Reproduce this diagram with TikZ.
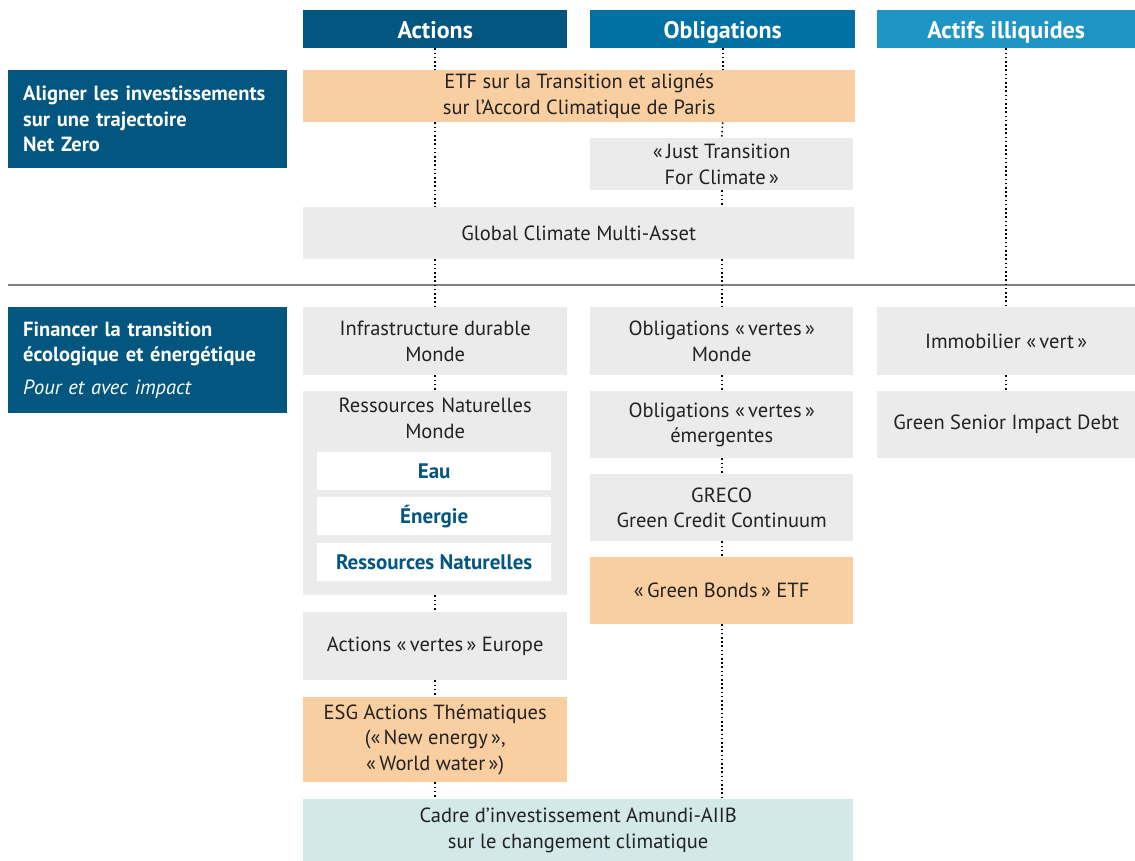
\documentclass[tikz,border=0pt]{standalone}
\usepackage{fontspec}
\setmainfont{PT Sans}
\usetikzlibrary{positioning}
\definecolor{navy}{HTML}{02567F}
\definecolor{midblue}{HTML}{0071A2}
\definecolor{skyblue}{HTML}{1F95C6}
\definecolor{boxgrey}{HTML}{EBEBEB}
\definecolor{peach}{HTML}{F9CEA0}
\definecolor{paleteal}{HTML}{D3E8E8}
\definecolor{inkgrey}{HTML}{222222}
\tikzset{
	cell/.style={anchor=north west, inner sep=0pt, align=center, text=inkgrey, font=\fontsize{20.5}{25.5}\selectfont},
	greycell/.style={cell, fill=boxgrey},
	peachcell/.style={cell, fill=peach},
	headcell/.style={cell, text=white, font=\fontsize{24}{25}\selectfont\bfseries, minimum height=38, text height=19pt, text depth=1pt},
	sidecell/.style={cell, fill=navy, text=white, align=left, text width=249, inner xsep=15, minimum width=279, font=\fontsize{20.5}{25.5}\selectfont\bfseries},
	subcell/.style={cell, fill=white, text=navy, minimum width=234, minimum height=38, font=\fontsize{21}{25}\selectfont\bfseries},
	dots/.style={line width=1.6pt, dash pattern=on 1.6pt off 2.6pt}
}
\begin{document}
\begin{tikzpicture}[x=1pt, y=-1pt]
			%%%%% START %%%%%
			\useasboundingbox (0,0) rectangle (1135,861);
			
			\node[headcell, fill=navy, minimum width=264] (hAct) at (303,10) {Actions};
			\node[headcell, fill=midblue, minimum width=265] (hObl) at (590,10) {Obligations};
			\node[headcell, fill=skyblue, minimum width=258] (hIll) at (877,10) {Actifs illiquides};
			
			\node[sidecell, minimum height=98] (netzero) at (8,70) {Aligner les investissements\\sur une trajectoire\\Net Zero};
			\node[sidecell, minimum height=106] (impact) at (8,307) {Financer la transition\\écologique et énergétique\\[7pt]{\mdseries\itshape Pour et avec impact}};
			
			\draw[line width=2pt, color=black!50] (8,285) -- (1135,285);
			
			% ---- alignement Net Zero
			\node[peachcell, minimum width=552, minimum height=52] (etf) at (303,70) {ETF sur la Transition et alignés\\sur l’Accord Climatique de Paris};
			\node[greycell, minimum width=263, minimum height=52] (jtc) at (590,138) {«\,Just Transition\\For Climate\,»};
			\node[greycell, minimum width=551, minimum height=52] (glob) at (303,207) {Global Climate Multi-Asset};
			
			% ---- colonne actions
			\node[greycell, minimum width=264, minimum height=68] (infra) at (303,307) {Infrastructure durable\\Monde};
			\node[greycell, minimum width=264, minimum height=204] (rnm) at (303,391) {};
			\node[cell, text width=264] (rnmT) at (303,398) {Ressources Naturelles\\Monde};
			\node[subcell] (eau) at (317,452) {Eau};
			\node[subcell] (nrj) at (317,497) {Énergie};
			\node[subcell] (res) at (317,543) {Ressources Naturelles};
			\node[greycell, minimum width=264, minimum height=68] (ave) at (303,612) {Actions «\,vertes\,» Europe};
			\node[peachcell, minimum width=264, minimum height=85] (esg) at (303,697) {ESG Actions Thématiques\\(«\,New energy\,»,\\«\,World water\,»)};
			
			% ---- colonne obligations
			\node[greycell, minimum width=263, minimum height=68] (ovm) at (590,307) {Obligations «\,vertes\,»\\Monde};
			\node[greycell, minimum width=263, minimum height=67] (ove) at (590,391) {Obligations «\,vertes\,»\\émergentes};
			\node[greycell, minimum width=263, minimum height=67] (greco) at (590,474) {GRECO\\Green Credit Continuum};
			\node[peachcell, minimum width=263, minimum height=67] (gbe) at (590,557) {«\,Green Bonds\,» ETF};
			
			% ---- colonne actifs illiquides
			\node[greycell, minimum width=258, minimum height=68] (immo) at (877,307) {Immobilier «\,vert\,»};
			\node[greycell, minimum width=258, minimum height=67] (gsid) at (877,391) {Green Senior Impact Debt};
			
			\node[cell, fill=paleteal, minimum width=550, minimum height=62] (cadre) at (303,799) {Cadre d’investissement Amundi-AIIB\\sur le changement climatique};
			
			% ---- pointilles
			\draw[dots] (hAct.south) -- (hAct.south |- etf.north);
			\draw[dots] (hAct.south |- etf.south) -- (hAct.south |- glob.north);
			\draw[dots] (hAct.south |- glob.south) -- (infra.north);
			\draw[dots] (infra.south) -- (rnm.north);
			\draw[dots] (rnm.south) -- (ave.north);
			\draw[dots] (ave.south) -- (esg.north);
			\draw[dots] (esg.south) -- (esg.south |- cadre.north);
			
			\draw[dots] (hObl.south) -- (hObl.south |- etf.north);
			\draw[dots] (hObl.south |- etf.south) -- (jtc.north);
			\draw[dots] (jtc.south) -- (jtc.south |- glob.north);
			\draw[dots] (jtc.south |- glob.south) -- (ovm.north);
			\draw[dots] (ovm.south) -- (ove.north);
			\draw[dots] (ove.south) -- (greco.north);
			\draw[dots] (greco.south) -- (gbe.north);
			\draw[dots] (gbe.south) -- (gbe.south |- cadre.north);
			
			\draw[dots] (hIll.south) -- (immo.north);
			\draw[dots] (immo.south) -- (gsid.north);
			
			%%%%% END %%%%%
		\end{tikzpicture}
\end{document}
